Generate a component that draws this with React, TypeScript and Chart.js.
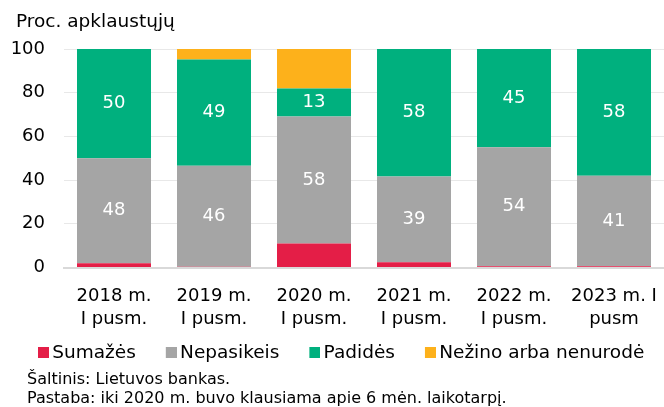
import React, { useEffect, useRef } from 'react';
import { Chart, registerables } from 'chart.js';

Chart.register(...registerables);

const categories = [
  ['2018 m.', 'I pusm.'],
  ['2019 m.', 'I pusm.'],
  ['2020 m.', 'I pusm.'],
  ['2021 m.', 'I pusm.'],
  ['2022 m.', 'I pusm.'],
  ['2023 m. I', 'pusm'],
];
const seriesNames = ['Sumažės', 'Nepasikeis', 'Padidės', 'Nežino arba nenurodė'];
const sumazes = [2, 0.4, 11, 2.4, 0.6, 0.6];
const nepasikeis = [48, 46.2, 58.1, 39.2, 54.4, 41.4];
const padides = [50, 48.6, 12.8, 58.4, 45, 58];
const nezino = [0, 4.8, 18.1, 0, 0, 0];
const seriesColors = ['#E41E47', '#A5A5A5', '#00B07E', '#FDB11B'];
const yMin = 0;
const yMax = 100;
const yStep = 20;
const titleText = 'Proc. apklaustųjų';
const footnotes = [
  'Šaltinis: Lietuvos bankas.',
  'Pastaba: iki 2020 m. buvo klausiama apie 6 mėn. laikotarpį.',
];

const FONT = '"DejaVu Sans", Verdana, sans-serif';

const valueLabels = {
  id: 'valueLabels',
  afterDatasetsDraw(chart: any) {
    const ctx = chart.ctx;
    ctx.save();
    ctx.font = '18px ' + FONT;
    ctx.fillStyle = '#ffffff';
    ctx.textAlign = 'center';
    ctx.textBaseline = 'middle';
    [1, 2].forEach((di) => {
      const meta = chart.getDatasetMeta(di);
      meta.data.forEach((el: any, i: number) => {
        const v = chart.data.datasets[di].data[i] as number;
        if (v < 5) return;
        const p = el.getProps(['x', 'y', 'base'], true);
        ctx.fillText(String(Math.round(v)), p.x, (p.y + p.base) / 2);
      });
    });
    ctx.restore();
  },
};

// legend swatch: 11x11 square at the right end of a 37px-wide image
function makeSwatch(color: string) {
  const c = document.createElement('canvas');
  c.width = 37;
  c.height = 11;
  const g = c.getContext('2d')!;
  g.fillStyle = color;
  g.fillRect(26, 0, 11, 11);
  return c;
}

export default function App() {
  const ref = useRef<HTMLCanvasElement | null>(null);

  useEffect(() => {
    if (!ref.current) return;
    const swatches = seriesColors.map(makeSwatch);
    const values = [sumazes, nepasikeis, padides, nezino];
    const chart = new Chart(ref.current, {
      type: 'bar',
      data: {
        labels: categories,
        datasets: values.map((d, i) => ({
          label: seriesNames[i],
          data: d,
          backgroundColor: seriesColors[i],
          borderWidth: 0,
          barPercentage: 0.74,
          categoryPercentage: 1,
        })),
      },
      options: {
        responsive: false,
        animation: false,
        layout: { padding: { left: 8, right: 0, top: 49, bottom: 35 } },
        scales: {
          x: {
            stacked: true,
            grid: { display: false, drawTicks: false },
            border: { display: true, color: '#d9d9d9', width: 2 },
            ticks: {
              color: '#000',
              font: { family: FONT, size: 18, lineHeight: 1.28 },
              padding: 17,
              maxRotation: 0,
              autoSkip: false,
            },
            afterFit: (scale: any) => {
              scale.height = 66;
              scale.paddingLeft = 0;
              scale.paddingRight = 0;
            },
          },
          y: {
            stacked: true,
            min: yMin,
            max: yMax,
            grid: { color: '#e8e8e8', lineWidth: 1, drawTicks: false },
            border: { display: false },
            ticks: {
              stepSize: yStep,
              color: '#000',
              font: { family: FONT, size: 18 },
              padding: 19,
            },
            afterFit: (scale: any) => {
              scale.width = 56;
            },
          },
        },
        plugins: {
          title: { display: false },
          legend: {
            display: true,
            position: 'bottom',
            align: 'start',
            labels: {
              usePointStyle: true,
              pointStyleWidth: 25,
              boxHeight: 11,
              padding: 10,
              color: '#000',
              font: { family: FONT, size: 18.5 },
              generateLabels: (ch: any) => {
                const items = Chart.defaults.plugins.legend.labels.generateLabels(ch);
                return items.map((it: any, i: number) => ({ ...it, pointStyle: swatches[i] }));
              },
            },
          },
          tooltip: { enabled: false },
        },
      },
      plugins: [valueLabels],
    } as any);
    return () => chart.destroy();
  }, []);

  return (
    <div style={{ position: 'absolute', left: 0, top: 0, width: 664, height: 407, background: '#fff' }}>
      <canvas ref={ref} width={664} height={407} style={{ display: 'block' }} />
      <div
        style={{
          position: 'absolute',
          left: 16,
          top: 10,
          fontFamily: FONT,
          fontSize: 18.5,
          lineHeight: '22px',
          color: '#000',
          whiteSpace: 'nowrap',
        }}
      >
        {titleText}
      </div>
      {footnotes.map((t, i) => (
        <div
          key={i}
          style={{
            position: 'absolute',
            left: 27,
            top: 368.5 + i * 19,
            fontFamily: FONT,
            fontSize: 16,
            lineHeight: '19px',
            color: '#000',
            whiteSpace: 'nowrap',
          }}
        >
          {t}
        </div>
      ))}
    </div>
  );
}
